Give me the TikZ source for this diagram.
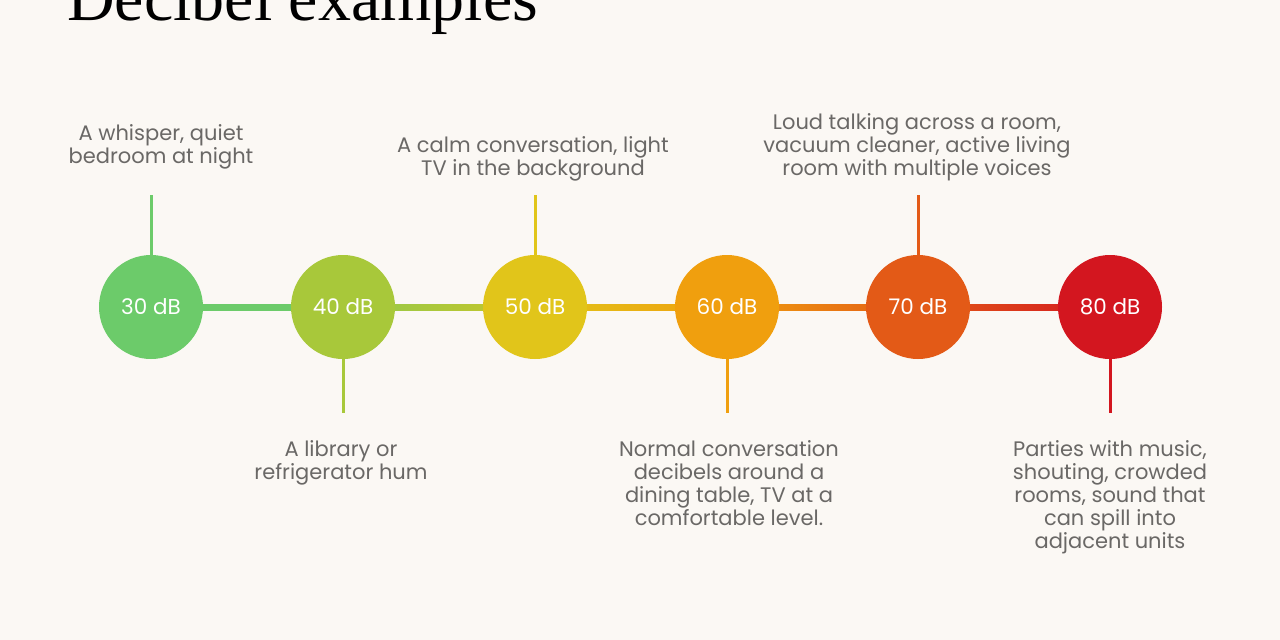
\documentclass[tikz,border=0pt]{standalone}
\usepackage{fontspec}
\setmainfont{Poppins}
\newfontfamily\titlefont{Liberation Serif}
\begin{document}
\begin{tikzpicture}[x=1pt,y=-1pt,
  dbc/.style={circle,minimum size=104pt,inner sep=0pt,text=white,font=\fontsize{21.5}{21.5}\selectfont},
  desc/.style={align=center,text=textgray,font=\fontsize{21}{23}\selectfont,inner sep=0pt},
  tick/.style={line width=3pt},
  link/.style={line width=6pt}]
\definecolor{bg}{HTML}{FBF8F4}
\definecolor{textgray}{HTML}{6A6866}
\definecolor{cA}{HTML}{6CCB6A}
\definecolor{cB}{HTML}{A8C83A}
\definecolor{cC}{HTML}{E1C51A}
\definecolor{cD}{HTML}{F09F0E}
\definecolor{cE}{HTML}{E35A17}
\definecolor{cF}{HTML}{D3161F}
\fill[bg] (0,0) rectangle (1280,640);
\useasboundingbox (0,0) rectangle (1280,640);
\node[anchor=base west,inner sep=0pt,font=\titlefont\fontsize{66}{66}\selectfont,text=black] (title) at (67,20) {Decibel examples};
% links
\shade[left color=cA,right color=cA] (151,304) rectangle (343,310);
\shade[left color=cA!40!cB,right color=cB!40!cC] (343,304) rectangle (535,310);
\shade[left color=cC,right color=cD] (535,304) rectangle (727,310);
\shade[left color=cD,right color=cE] (727,304) rectangle (918,310);
\shade[left color=cE,right color=cF] (918,304) rectangle (1110,310);
% circles
\node[dbc,fill=cA] (d30) at (151,307) {30 dB};
\node[dbc,fill=cB] (d40) at (343,307) {40 dB};
\node[dbc,fill=cC] (d50) at (535,307) {50 dB};
\node[dbc,fill=cD] (d60) at (727,307) {60 dB};
\node[dbc,fill=cE] (d70) at (918,307) {70 dB};
\node[dbc,fill=cF] (d80) at (1110,307) {80 dB};
% tick end points
\coordinate (t30) at (151,195);
\coordinate (t40) at (343,413);
\coordinate (t50) at (535,195);
\coordinate (t60) at (727,413);
\coordinate (t70) at (918,195);
\coordinate (t80) at (1110,413);
\draw[tick,cA] (d30.north) -- (t30);
\draw[tick,cB] (d40.south) -- (t40);
\draw[tick,cC] (d50.north) -- (t50);
\draw[tick,cD] (d60.south) -- (t60);
\draw[tick,cE] (d70.north) -- (t70);
\draw[tick,cF] (d80.south) -- (t80);
% descriptions
\node[desc,anchor=base] (l30) at (161,163) {A whisper, quiet\\bedroom at night};
\node[desc,anchor=base] (l50) at (533,175) {A calm conversation, light\\TV in the background};
\node[desc,anchor=base] (l70) at (917,175) {Loud talking across a room,\\vacuum cleaner, active living\\room with multiple voices};
\node[desc,anchor=north] (l40) at (341,440) {A library or\\refrigerator hum};
\node[desc,anchor=north] (l60) at (729,440) {Normal conversation\\decibels around a\\dining table, TV at a\\comfortable level.};
\node[desc,anchor=north] (l80) at (1110,440) {Parties with music,\\shouting, crowded\\rooms, sound that\\can spill into\\adjacent units};
\end{tikzpicture}
\end{document}
